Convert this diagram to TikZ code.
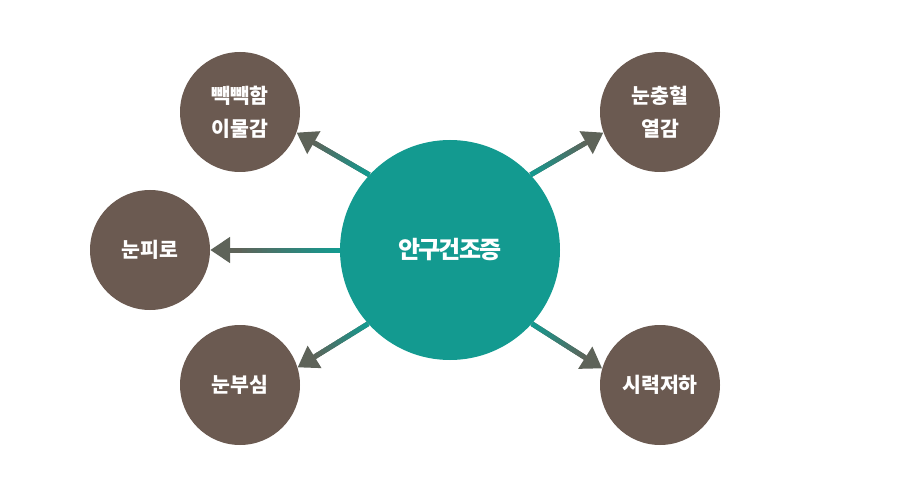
\documentclass[tikz,border=0pt]{standalone}
\usepackage{fontspec}
\newfontfamily\kr{Noto Sans CJK KR}
\newfontfamily\krtight{Noto Sans CJK KR}[LetterSpace=-8]
\usetikzlibrary{arrows.meta,calc}

\definecolor{hubteal}{RGB}{19,154,144}
\definecolor{sympbrown}{RGB}{107,90,81}
\definecolor{tipgray}{RGB}{94,99,89}

% gradient arrow from the hub to a symptom
\newcommand\gradlink[2]{%
  \draw[link] (#1) -- (#2);
  \foreach \k [evaluate=\k as \pa using \k*0.0375,
               evaluate=\k as \pb using (\k+1)*0.0375+0.004,
               evaluate=\k as \mix using 100-\k*5] in {0,...,19}
    \draw[line width=5pt, draw=hubteal!\mix!tipgray] ($(#1)!\pa!(#2)$) -- ($(#1)!\pb!(#2)$);
}

\begin{document}
\begin{tikzpicture}[
    x=1pt, y=-1pt,
    hub/.style={circle, fill=hubteal, minimum size=220pt, inner sep=0pt, text=white, font=\krtight\bfseries\fontsize{24}{28}\selectfont},
    symp/.style={circle, fill=sympbrown, minimum size=120pt, inner sep=0pt, text=white, align=center, font=\kr\bfseries\fontsize{20.5}{33}\selectfont},
    link/.style={-{Triangle[length=20pt,width=25pt]}, line width=5pt, draw=tipgray}
]
    \useasboundingbox (0,0) rectangle (900,500);

    \node (dry) [hub] at (450,250) {안구건조증};
    \node (tight) [symp] at (240,112) {빽빽함\\이물감};
    \node (tired) [symp] at (150,250) {눈피로};
    \node (glare) [symp] at (240,385) {눈부심};
    \node (red) [symp] at (660,112) {눈충혈\\열감};
    \node (blur) [symp] at (660,385) {시력저하};

    \gradlink{dry.137}{tight.340}
    \gradlink{dry.180}{tired.0}
    \gradlink{dry.222}{glare.17}
    \gradlink{dry.43}{red.200}
    \gradlink{dry.318}{blur.164}
\end{tikzpicture}
\end{document}
